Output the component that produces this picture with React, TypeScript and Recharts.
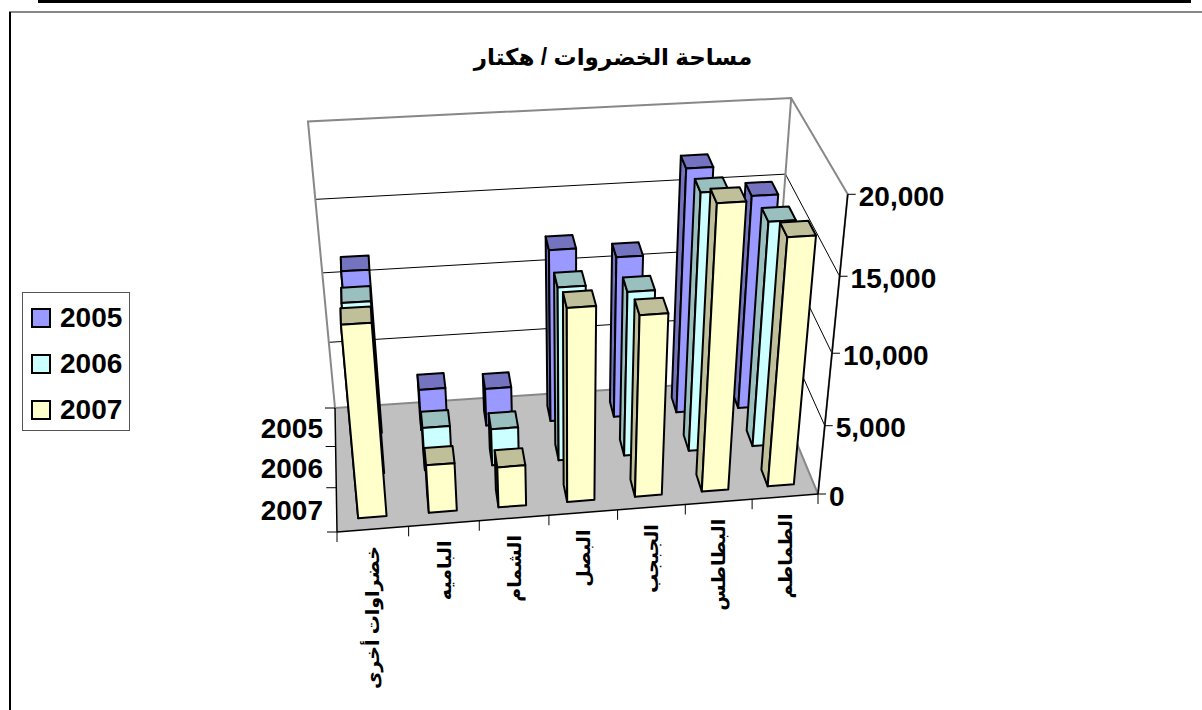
import React from 'react';
import { BarChart, Bar, XAxis, YAxis, Legend, Customized } from 'recharts';

const categories = ['خضراوات أخرى', 'الباميه', 'الشمام', 'البصل', 'الجبجب', 'البطاطس', 'الطماطم'];
const values2005 = [11800, 3060, 2800, 12400, 11640, 17280, 15250];
const values2006 = [12160, 3150, 2700, 12300, 11700, 17860, 15750];
const values2007 = [13310, 3470, 2940, 13440, 12660, 19330, 17010];
const seriesNames = ['2005', '2006', '2007'];
const yTicks = [0, 5000, 10000, 15000, 20000];
const yMax = 20000;

const data = categories.map((name, i) => ({
  name,
  '2005': values2005[i],
  '2006': values2006[i],
  '2007': values2007[i],
}));

const frontColors = ['#9999FF', '#CCFFFF', '#FFFFCC'];
const shadeColors = ['#7373BF', '#99BFBF', '#BFBF99'];

const WIDTH = 1202;
const HEIGHT = 710;
// flat plot rectangle, the library lays bars out in here and project() moves them into the 3D box
const PLOT = { left: 100, top: 100, width: 700, height: 400 };
const BAR_SIZE = 40;

// perspective of the box: u across, w into the page, t up (all 0..1)
const project = (u: number, w: number, t: number): [number, number] => {
  const d = 1 + 0.05 * u + 0.111 * w - 0.12 * t;
  return [
    (337 + 521.9 * u + 35.2 * w - 67 * t - 3.5 * u * t) / d,
    (532 - 13.3 * u - 78.7 * w - 333 * t - 5 * u * t) / d,
  ];
};

const toU = (x: number) => (x - PLOT.left) / PLOT.width;
const toT = (y: number) => (PLOT.top + PLOT.height - y) / PLOT.height;
const poly = (pts: [number, number][]) => pts.map(p => p.join(',')).join(' ');

const LABEL_FONT = '"Liberation Sans", Arial, sans-serif';
const ARABIC_FONT = '"Liberation Sans", "DejaVu Sans", sans-serif';

// where each series sits in the depth of the box
const DEPTH_FRONT = [0.755, 0.42, 0.089];
const DEPTH_SIZE = 0.135;

const Prism = ({ x, y, width, height, slot }: any) => {
  const u0 = toU(x);
  const u1 = toU(x + width);
  const t = toT(y);
  const w0 = DEPTH_FRONT[slot];
  const w1 = w0 + DEPTH_SIZE;
  const base = toT(y + height);
  const fl = project(u0, w0, base);
  const fr = project(u1, w0, base);
  const flt = project(u0, w0, t);
  const frt = project(u1, w0, t);
  const bl = project(u0, w1, base);
  const br = project(u1, w1, base);
  const blt = project(u0, w1, t);
  const brt = project(u1, w1, t);
  const shared = { stroke: '#000', strokeWidth: 2, strokeLinejoin: 'round' as const };
  return (
    <g>
      {blt[0] < flt[0] && <polygon points={poly([bl, fl, flt, blt])} fill={shadeColors[slot]} {...shared} />}
      {brt[0] > frt[0] && <polygon points={poly([fr, br, brt, frt])} fill={shadeColors[slot]} {...shared} />}
      <polygon points={poly([flt, frt, brt, blt])} fill={shadeColors[slot]} {...shared} />
      <polygon points={poly([fl, fr, frt, flt])} fill={frontColors[slot]} {...shared} />
    </g>
  );
};

const Seg = ({ a, b, color = '#000', sw = 1 }: any) => (
  <line x1={a[0]} y1={a[1]} x2={b[0]} y2={b[1]} stroke={color} strokeWidth={sw} />
);

const Backdrop = () => {
  const depthStops = [1, 2 / 3, 1 / 3, 0];
  return (
    <g>
      <rect x={38} y={0} width={1153} height={3} fill="#000" />
      <rect x={9} y={11} width={1193} height={2} fill="#888" />
      <rect x={9} y={12} width={2} height={698} fill="#000" />

      <polygon
        points={poly([project(0, 0, 0), project(1, 0, 0), project(1, 1, 0), project(0, 1, 0)])}
        fill="#C0C0C0"
      />
      {yTicks.slice(1, -1).map(v => {
        const t = v / yMax;
        return (
          <g key={v}>
            <Seg a={project(0, 1, t)} b={project(1, 1, t)} />
            <Seg a={project(1, 1, t)} b={project(1, 0, t)} />
          </g>
        );
      })}
      <polygon
        points={poly([project(0, 1, 0), project(0, 1, 1), project(1, 1, 1), project(1, 0, 1), project(1, 0, 0), project(1, 1, 0)])}
        fill="none"
        stroke="#888"
        strokeWidth={2}
      />
      <Seg a={project(1, 1, 0)} b={project(1, 1, 1)} color="#888" sw={2} />
      <Seg a={project(0, 0, 0)} b={project(1, 0, 0)} sw={1.5} />
      <Seg a={project(0, 0, 0)} b={project(0, 1, 0)} sw={1.5} />
      <Seg a={project(1, 0, 0)} b={project(1, 0, 1)} sw={1.5} />

      {categories.map((_, i) => i).concat(categories.length).map(i => {
        const p = project(i / categories.length, 0, 0);
        return <Seg key={i} a={p} b={[p[0], p[1] + 10]} />;
      })}
      {depthStops.map(w => {
        const p = project(0, w, 0);
        return <Seg key={w} a={p} b={[p[0] - 10, p[1]]} />;
      })}
      {seriesNames.map((name, i) => {
        const p = project(0, DEPTH_FRONT[i] + 0.0775, 0);
        return (
          <text key={name} x={323} y={p[1] + 1} textAnchor="end" dominantBaseline="central"
            fontFamily={LABEL_FONT} fontWeight="bold" fontSize={28} fill="#000">
            {name}
          </text>
        );
      })}
      <text x={613} y={57} textAnchor="middle" dominantBaseline="central"
        fontFamily={ARABIC_FONT} fontWeight="bold" fontSize={23} fill="#000">
        مساحة الخضروات / هكتار
      </text>
    </g>
  );
};

const CategoryTick = ({ x, payload }: any) => {
  const p = project(toU(x), 0, 0);
  return (
    <text
      transform={`translate(${p[0]},${p[1] + 17}) rotate(-90)`}
      textAnchor="end"
      dominantBaseline="central"
      fontFamily={ARABIC_FONT}
      fontWeight="bold"
      fontSize={19}
      fill="#000"
    >
      {payload.value}
    </text>
  );
};

const ValueTick = ({ y, payload }: any) => {
  const p = project(1, 0, toT(y));
  return (
    <g>
      <line x1={p[0]} y1={p[1]} x2={p[0] + 8} y2={p[1]} stroke="#000" strokeWidth={1} />
      <text x={p[0] + 11} y={p[1] + 2} dominantBaseline="central"
        fontFamily={LABEL_FONT} fontWeight="bold" fontSize={28} fill="#000">
        {payload.value.toLocaleString('en-US')}
      </text>
    </g>
  );
};

const LegendBox = ({ payload }: any) => (
  <div style={{ width: 108, height: 139, boxSizing: 'border-box', border: '1px solid #555', background: '#fff', position: 'relative' }}>
    {(payload || []).map((entry: any, i: number) => (
      <div key={entry.value} style={{ position: 'absolute', left: 8, top: 15 + i * 46, display: 'flex', alignItems: 'center', height: 20 }}>
        <span style={{ width: 20, height: 20, boxSizing: 'border-box', border: '2px solid #000', background: entry.color, display: 'inline-block' }} />
        <span style={{ marginLeft: 9, font: `bold 28px ${LABEL_FONT}`, color: '#000' }}>{entry.value}</span>
      </div>
    ))}
  </div>
);

export default function App() {
  return (
    <div style={{ position: 'absolute', left: 0, top: 0, width: WIDTH, height: HEIGHT, overflow: 'hidden', background: '#fff' }}>
      <BarChart
        width={WIDTH}
        height={HEIGHT}
        data={data}
        barSize={BAR_SIZE}
        barGap={-BAR_SIZE}
        margin={{
          left: PLOT.left - 1,
          top: PLOT.top,
          right: WIDTH - PLOT.left - PLOT.width,
          bottom: HEIGHT - PLOT.top - PLOT.height - 1,
        }}
      >
        <Customized component={Backdrop} />
        <XAxis dataKey="name" height={1} axisLine={false} tickLine={false} tick={<CategoryTick />} interval={0} />
        <YAxis domain={[0, yMax]} ticks={yTicks} width={1} axisLine={false} tickLine={false} tick={<ValueTick />} />
        <Legend
          layout="horizontal"
          verticalAlign="middle"
          align="center"
          content={<LegendBox />}
          wrapperStyle={{ left: 22, top: 292, width: 108, height: 139 }}
        />
        {seriesNames.map((name, i) => (
          <Bar
            key={name}
            dataKey={name}
            name={name}
            fill={frontColors[i]}
            isAnimationActive={false}
            shape={(props: any) => <Prism {...props} slot={i} />}
          />
        ))}
      </BarChart>
    </div>
  );
}
